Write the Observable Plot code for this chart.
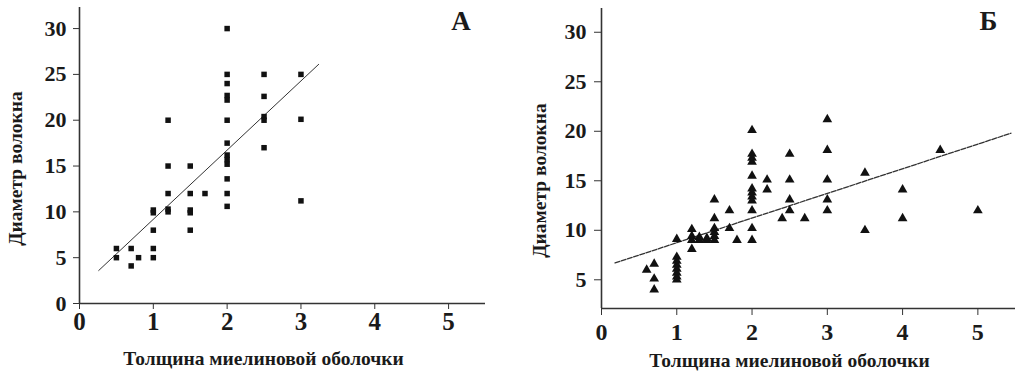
<!DOCTYPE html>
<html>
<head>
<meta charset="utf-8">
<script src="https://cdn.jsdelivr.net/npm/d3@7"></script>
<script src="https://cdn.jsdelivr.net/npm/@observablehq/plot@0.6"></script>
<style>
  body { margin: 0; background: #fff; }
  #wrap { display: flex; width: 1017px; height: 373px; overflow: hidden; }
</style>
</head>
<body>
<div id="wrap"></div>
<script>
// ---- labels and ticks ----
const xLabel = "Толщина миелиновой оболочки";
const yLabel = "Диаметр волокна";
const panelLabels = ["А", "Б"];
const xTicks = [0, 1, 2, 3, 4, 5];
const yTicksA = [0, 5, 10, 15, 20, 25, 30];
const yTicksB = [5, 10, 15, 20, 25, 30];
const xDomain = [0, 5.5];
const yDomainA = [0, 32.3];
const yDomainB = [2.1, 32.4];

// ---- panel А: squares ----
const aX = [0.5, 0.5, 0.7, 0.7, 0.8,
  1, 1, 1, 1, 1,
  1.2, 1.2, 1.2, 1.2, 1.2,
  1.5, 1.5, 1.5, 1.5, 1.5,
  1.7,
  2, 2, 2, 2, 2, 2, 2, 2, 2, 2, 2, 2, 2,
  2.5, 2.5, 2.5, 2.5, 2.5,
  3, 3, 3];
const aY = [6, 5, 6, 4.1, 5,
  10.2, 9.9, 8, 6, 5,
  20, 15, 12, 10.3, 10,
  15, 12, 10.2, 9.9, 8,
  12,
  30, 25, 24, 22.7, 22.2, 20, 17.5, 16.2, 15.7, 15.2, 13.6, 12, 10.6,
  25, 22.6, 20.4, 20, 17,
  25, 20.1, 11.2];
// regression line А (end points)
const fitAx = [0.26, 3.24];
const fitAy = [3.6, 26.1];

// ---- panel Б: triangles ----
const bX = [0.6, 0.7, 0.7, 0.7,
  1, 1, 1, 1, 1, 1, 1, 1,
  1.2, 1.2, 1.2, 1.2,
  1.3, 1.3, 1.4, 1.4,
  1.5, 1.5, 1.5, 1.5, 1.5, 1.5,
  1.7, 1.7, 1.8,
  2, 2, 2, 2, 2, 2, 2, 2, 2, 2, 2, 2,
  2.2, 2.2, 2.4,
  2.5, 2.5, 2.5, 2.5, 2.7,
  3, 3, 3, 3, 3,
  3.5, 3.5, 4, 4, 4.5, 5];
const bY = [6.0, 6.6, 5.1, 4.0,
  9.1, 7.3, 6.9, 6.5, 6.1, 5.7, 5.3, 5.0,
  10.1, 9.4, 9.0, 8.1,
  9.0, 9.3, 9.0, 9.2,
  13.1, 11.2, 10.2, 9.8, 9.4, 9.0,
  12.0, 10.2, 9.0,
  20.1, 17.7, 17.3, 16.9, 15.5, 14.2, 13.8, 13.4, 13.0, 12.0, 10.2, 9.0,
  15.1, 14.1, 11.2,
  17.7, 15.1, 13.1, 12.0, 11.2,
  21.2, 18.1, 15.1, 13.1, 12.0,
  15.8, 10.0, 14.1, 11.2, 18.1, 12.0];
// regression line Б (end points)
const fitBx = [0.18, 5.44];
const fitBy = [6.7, 19.8];

const pts = (xs, ys) => xs.map((x, i) => ({x, y: ys[i]}));
const style = "font-family: 'Liberation Serif', 'Times New Roman', serif; font-weight: bold; color: #1a1a1a; background: #fff; overflow: visible;";

function panel(cfg) {
  return Plot.plot({
    width: cfg.width, height: 373,
    marginLeft: cfg.ml, marginRight: cfg.mr, marginTop: cfg.mt, marginBottom: cfg.mb,
    style,
    x: {domain: xDomain},
    y: {domain: cfg.yDomain},
    marks: [
      Plot.axisX(xTicks, {tickSize: cfg.tsx, tickPadding: cfg.tpx, fontSize: cfg.fx, label: null, stroke: "#333"}),
      Plot.axisY(cfg.yTicks, {tickSize: cfg.tsy, tickPadding: cfg.tpy, fontSize: 22, label: null, stroke: "#333"}),
      Plot.ruleX([xDomain[0]], {stroke: "#333", strokeWidth: 1.6}),
      Plot.ruleY([cfg.yDomain[0]], {stroke: "#333", strokeWidth: 1.6}),
      Plot.line(pts(cfg.fitx, cfg.fity), {x: "x", y: "y", stroke: "#333", strokeWidth: cfg.lw, strokeDasharray: cfg.dash}),
      Plot.dot(pts(cfg.xs, cfg.ys), {x: "x", y: "y", symbol: cfg.symbol, r: cfg.r, fill: "#111"}),
      Plot.text([yLabel], {text: d => d, frameAnchor: "left", dx: cfg.ylx, dy: cfg.yly, rotate: -90,
        fontSize: 19.5, fontWeight: "bold", fill: "#1a1a1a", textAnchor: "middle", lineAnchor: "middle"}),
      Plot.text([xLabel], {text: d => d, frameAnchor: "bottom", dx: -19, dy: cfg.xly,
        fontSize: 19.5, fontWeight: "bold", fill: "#1a1a1a", textAnchor: "middle", lineAnchor: "middle"}),
      Plot.text([cfg.letter], {text: d => d, frameAnchor: "top-right", dx: cfg.lx, dy: cfg.ly,
        fontSize: 27, fontWeight: "bold", fill: "#1a1a1a", textAnchor: "middle", lineAnchor: "middle"})
    ]
  });
}

const wrap = document.getElementById("wrap");
wrap.append(panel({
  width: 507, ml: 79, mr: 22, mt: 7, mb: 70,
  yDomain: yDomainA, yTicks: yTicksA,
  tsx: 6, tpx: 3, fx: 25, tsy: 6, tpy: 7,
  fitx: fitAx, fity: fitAy, lw: 1, dash: null,
  xs: aX, ys: aY, symbol: "square", r: 3.1,
  ylx: -64, yly: 13, xly: 55, letter: panelLabels[0], lx: -24.5, ly: 14
}));
wrap.append(panel({
  width: 510, ml: 94, mr: 2, mt: 8, mb: 65,
  yDomain: yDomainB, yTicks: yTicksB,
  tsx: 7, tpx: 7, fx: 24, tsy: 7, tpy: 8,
  fitx: fitBx, fity: fitBy, lw: 1.3, dash: "5,1.5",
  xs: bX, ys: bY, symbol: "triangle", r: 3.6,
  ylx: -62, yly: 22, xly: 52, letter: panelLabels[1], lx: -27, ly: 13
}));
</script>
</body>
</html>
